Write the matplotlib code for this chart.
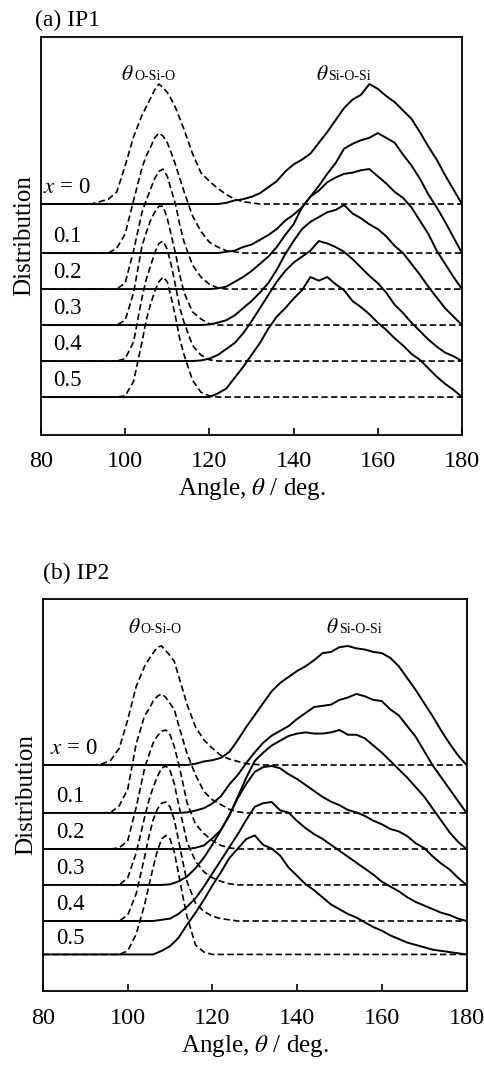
import matplotlib
matplotlib.use('Agg')
import matplotlib.pyplot as plt

plt.rcParams['font.family'] = 'Liberation Serif'
plt.rcParams['mathtext.fontset'] = 'stix'

# composition labels
labels = ['$x$ = 0', '0.1', '0.2', '0.3', '0.4', '0.5']

# angle grids (deg)
ang_osio = [80, 90, 92, 94, 96, 98, 100, 102, 104, 105, 106, 107, 108, 109, 110,
            111, 112, 113, 114, 116, 118, 120, 122, 124, 126, 128, 130, 132, 180]
ang_sios = [80, 106, 108, 110, 112, 114, 116, 118, 120, 122, 124, 126, 128, 130,
            132, 134, 136, 138, 140, 142, 144, 146, 148, 150, 152, 154, 156, 158,
            160, 162, 164, 166, 168, 170, 172, 174, 176, 178, 180]

# (a) IP1, O-Si-O distributions (normalised)
osio_ip1_0 = [0, 0, 0, 0.02, 0.04, 0.10, 0.32, 0.56, 0.74, 0.81, 0.88, 0.95, 1.0, 0.97, 0.93,
              0.87, 0.80, 0.71, 0.62, 0.42, 0.26, 0.19, 0.13, 0.08, 0.04, 0.02, 0.01, 0, 0]
osio_ip1_1 = [0, 0, 0, 0, 0, 0.04, 0.16, 0.44, 0.71, 0.81, 0.88, 0.96, 1.0, 0.975, 0.92,
              0.83, 0.73, 0.62, 0.51, 0.31, 0.18, 0.09, 0.05, 0.02, 0.01, 0, 0, 0, 0]
osio_ip1_2 = [0, 0, 0, 0, 0, 0, 0.05, 0.32, 0.64, 0.74, 0.83, 0.92, 0.98, 1.0, 0.94,
              0.82, 0.70, 0.53, 0.39, 0.20, 0.10, 0.04, 0.01, 0, 0, 0, 0, 0, 0]
osio_ip1_3 = [0, 0, 0, 0, 0, 0, 0.04, 0.27, 0.66, 0.77, 0.87, 0.94, 0.99, 0.99, 0.89,
              0.74, 0.59, 0.41, 0.27, 0.11, 0.05, 0.01, 0, 0, 0, 0, 0, 0, 0]
osio_ip1_4 = [0, 0, 0, 0, 0, 0, 0.02, 0.16, 0.53, 0.68, 0.79, 0.90, 0.98, 1.0, 0.93,
              0.79, 0.62, 0.44, 0.32, 0.13, 0.05, 0.01, 0, 0, 0, 0, 0, 0, 0]
osio_ip1_5 = [0, 0, 0, 0, 0, 0, 0.01, 0.13, 0.46, 0.64, 0.77, 0.88, 0.96, 1.0, 0.96,
              0.82, 0.66, 0.48, 0.35, 0.14, 0.04, 0.01, 0, 0, 0, 0, 0, 0, 0]

# (a) IP1, Si-O-Si distributions
sios_ip1_0 = [0, 0, 0, 0, 0, 0, 0, 0, 0, 0, 0.01, 0.03, 0.04, 0.06, 0.09, 0.14, 0.19, 0.27,
              0.33, 0.37, 0.42, 0.51, 0.60, 0.70, 0.80, 0.87, 0.91, 1.0, 0.96, 0.90, 0.85,
              0.78, 0.71, 0.60, 0.48, 0.37, 0.24, 0.12, 0]
sios_ip1_1 = [0, 0, 0, 0, 0, 0, 0, 0, 0, 0, 0.01, 0.02, 0.05, 0.07, 0.11, 0.15, 0.20, 0.27,
              0.32, 0.38, 0.47, 0.56, 0.66, 0.75, 0.87, 0.91, 0.94, 0.96, 1.0, 0.96, 0.92,
              0.82, 0.73, 0.62, 0.49, 0.38, 0.26, 0.13, 0]
sios_ip1_2 = [0, 0, 0, 0, 0, 0, 0, 0, 0, 0.005, 0.02, 0.06, 0.10, 0.15, 0.21, 0.27, 0.35,
              0.45, 0.54, 0.68, 0.77, 0.82, 0.89, 0.93, 0.96, 0.97, 0.99, 1.0, 0.94, 0.88,
              0.81, 0.76, 0.68, 0.57, 0.46, 0.32, 0.21, 0.10, 0]
sios_ip1_3 = [0, 0, 0, 0, 0, 0, 0, 0, 0.005, 0.02, 0.04, 0.08, 0.14, 0.20, 0.27, 0.35, 0.46,
              0.59, 0.70, 0.80, 0.86, 0.90, 0.94, 0.96, 1.0, 0.93, 0.89, 0.84, 0.80, 0.74,
              0.66, 0.60, 0.51, 0.42, 0.32, 0.23, 0.14, 0.07, 0]
sios_ip1_4 = [0, 0, 0, 0, 0, 0, 0, 0.005, 0.02, 0.05, 0.10, 0.15, 0.23, 0.33, 0.44, 0.55,
              0.66, 0.75, 0.82, 0.87, 0.92, 1.0, 0.98, 0.95, 0.91, 0.85, 0.78, 0.71, 0.65,
              0.57, 0.47, 0.40, 0.32, 0.25, 0.18, 0.12, 0.07, 0.04, 0]
sios_ip1_5 = [0, 0, 0, 0, 0, 0, 0, 0, 0, 0.03, 0.07, 0.16, 0.25, 0.35, 0.45, 0.57, 0.67,
              0.74, 0.82, 0.89, 1.0, 0.97, 1.0, 0.94, 0.89, 0.80, 0.75, 0.69, 0.62, 0.56,
              0.49, 0.43, 0.36, 0.31, 0.24, 0.17, 0.11, 0.06, 0]

# (b) IP2, O-Si-O distributions
osio_ip2_0 = [0, 0, 0, 0.01, 0.04, 0.14, 0.38, 0.66, 0.83, 0.89, 0.94, 0.99, 1.0, 0.96, 0.92,
              0.87, 0.75, 0.63, 0.51, 0.32, 0.21, 0.14, 0.08, 0.05, 0.03, 0.01, 0.005, 0, 0]
osio_ip2_1 = [0, 0, 0, 0, 0.005, 0.06, 0.20, 0.58, 0.82, 0.87, 0.94, 0.98, 1.0, 0.97, 0.92,
              0.87, 0.74, 0.62, 0.50, 0.32, 0.18, 0.11, 0.07, 0.03, 0.01, 0, 0, 0, 0]
osio_ip2_2 = [0, 0, 0, 0, 0, 0.01, 0.07, 0.35, 0.68, 0.79, 0.89, 0.95, 0.99, 1.0, 0.96,
              0.86, 0.72, 0.56, 0.39, 0.21, 0.13, 0.07, 0.03, 0.01, 0, 0, 0, 0, 0]
osio_ip2_3 = [0, 0, 0, 0, 0, 0, 0.06, 0.27, 0.57, 0.71, 0.82, 0.91, 0.98, 1.0, 0.96,
              0.85, 0.68, 0.52, 0.36, 0.20, 0.11, 0.06, 0.03, 0.01, 0, 0, 0, 0, 0]
osio_ip2_4 = [0, 0, 0, 0, 0, 0, 0.05, 0.23, 0.54, 0.71, 0.85, 0.94, 0.99, 1.0, 0.96,
              0.85, 0.68, 0.50, 0.33, 0.15, 0.08, 0.04, 0.02, 0.01, 0, 0, 0, 0, 0]
osio_ip2_5 = [0, 0, 0, 0, 0, 0, 0.03, 0.17, 0.42, 0.58, 0.73, 0.87, 0.97, 1.0, 0.97,
              0.86, 0.68, 0.49, 0.32, 0.08, 0.02, 0, 0, 0, 0, 0, 0, 0, 0]

# (b) IP2, Si-O-Si distributions
sios_ip2_0 = [0, 0, 0, 0, 0, 0, 0.01, 0.03, 0.04, 0.06, 0.11, 0.21, 0.32, 0.42, 0.52, 0.62,
              0.69, 0.74, 0.79, 0.83, 0.88, 0.94, 0.95, 0.99, 1.0, 0.98, 0.97, 0.95, 0.94,
              0.90, 0.83, 0.73, 0.63, 0.52, 0.41, 0.29, 0.18, 0.08, 0]
sios_ip2_1 = [0, 0, 0, 0, 0, 0.005, 0.02, 0.04, 0.08, 0.14, 0.24, 0.32, 0.42, 0.51, 0.59,
              0.65, 0.69, 0.73, 0.79, 0.84, 0.89, 0.90, 0.91, 0.95, 0.97, 1.0, 0.98, 0.95,
              0.94, 0.87, 0.82, 0.73, 0.64, 0.52, 0.40, 0.30, 0.20, 0.10, 0]
sios_ip2_2 = [0, 0, 0, 0, 0, 0, 0.01, 0.03, 0.09, 0.16, 0.28, 0.44, 0.60, 0.74, 0.81, 0.87,
              0.91, 0.95, 0.97, 0.98, 0.97, 0.97, 0.98, 1.0, 0.96, 0.96, 0.93, 0.87, 0.81,
              0.74, 0.67, 0.60, 0.52, 0.44, 0.34, 0.24, 0.14, 0.06, 0]
sios_ip2_3 = [0, 0, 0, 0.005, 0.03, 0.07, 0.14, 0.23, 0.34, 0.46, 0.59, 0.73, 0.85, 0.95,
              0.99, 1.0, 0.98, 0.93, 0.89, 0.84, 0.79, 0.74, 0.70, 0.67, 0.63, 0.61, 0.58,
              0.54, 0.51, 0.47, 0.45, 0.41, 0.35, 0.31, 0.24, 0.18, 0.13, 0.06, 0]
sios_ip2_4 = [0, 0, 0.01, 0.02, 0.06, 0.12, 0.19, 0.29, 0.40, 0.51, 0.62, 0.73, 0.85, 0.96,
              0.99, 1.0, 0.93, 0.91, 0.84, 0.78, 0.73, 0.69, 0.64, 0.59, 0.54, 0.49, 0.44,
              0.39, 0.33, 0.29, 0.25, 0.20, 0.16, 0.13, 0.10, 0.07, 0.05, 0.02, 0]
sios_ip2_5 = [0, 0, 0.03, 0.07, 0.14, 0.25, 0.35, 0.46, 0.58, 0.69, 0.81, 0.89, 0.97, 1.0,
              0.92, 0.89, 0.83, 0.73, 0.66, 0.59, 0.54, 0.48, 0.42, 0.38, 0.34, 0.31, 0.27,
              0.23, 0.20, 0.16, 0.13, 0.10, 0.08, 0.06, 0.04, 0.03, 0.02, 0.01, 0]

osio_ip1 = [osio_ip1_0, osio_ip1_1, osio_ip1_2, osio_ip1_3, osio_ip1_4, osio_ip1_5]
sios_ip1 = [sios_ip1_0, sios_ip1_1, sios_ip1_2, sios_ip1_3, sios_ip1_4, sios_ip1_5]
osio_ip2 = [osio_ip2_0, osio_ip2_1, osio_ip2_2, osio_ip2_3, osio_ip2_4, osio_ip2_5]
sios_ip2 = [sios_ip2_0, sios_ip2_1, sios_ip2_2, sios_ip2_3, sios_ip2_4, sios_ip2_5]

DASH = (0, (3.8, 2.0))


def theta_label(ax, x, y, sub, gap):
    # theta with a plain-text subscript right after it
    ax.text(x, y, r'$\theta$', fontsize=15.5, va='baseline')
    ax.annotate(sub, xy=(x, y), xytext=(gap, 0), textcoords='offset points',
                fontsize=10, va='baseline')


def draw_panel(ax, osio, sios, offs, top, lab_x0, th_pos):
    for i in range(6):
        off = offs[i]
        ax.plot(ang_osio, [v + off for v in osio[i]], color='k', lw=1.2,
                ls=DASH, zorder=2)
        ax.plot(ang_sios, [v + off for v in sios[i]], color='k', lw=1.4,
                zorder=3)
        lx = lab_x0 if i == 0 else 83.0
        ax.text(lx, off + 0.09, labels[i], fontsize=16.5, va='baseline', ha='left')

    ax.set_xlim(80, 180)
    ax.set_ylim(0, top)
    ax.set_xticks(range(80, 181, 20))
    ax.set_yticks([])
    ax.tick_params(axis='x', direction='in', length=5, width=1.2, pad=12,
                   labelsize=17.5)
    for s in ax.spines.values():
        s.set_linewidth(1.3)
    ax.set_xlabel(r'Angle, $\theta$ / deg.', fontsize=18, labelpad=3)
    ax.set_ylabel('Distribution', fontsize=18, labelpad=4)

    t1x, t2x, ty, gap = th_pos
    theta_label(ax, t1x, ty, 'O-Si-O', gap)
    theta_label(ax, t2x, ty, 'Si-O-Si', gap)


fig = plt.figure(figsize=(4.85, 10.74), dpi=100)

ax1 = fig.add_axes([0.0845, 0.5954, 0.8680, 0.3701])
draw_panel(ax1, osio_ip1, sios_ip1,
           [1.921, 1.5125, 1.2125, 0.9125, 0.6125, 0.3125], 3.3125, 80.55,
           (99.1, 145.3, 2.955, 9.0))

ax2 = fig.add_axes([0.0887, 0.0773, 0.8732, 0.3650])
draw_panel(ax2, osio_ip2, sios_ip2,
           [1.899, 1.496, 1.193, 0.891, 0.588, 0.307], 3.294, 81.65,
           (100.0, 146.9, 3.006, 9.0))

fig.text(35 / 485, 1 - 26 / 1074, '(a) IP1', fontsize=17, va='baseline')
fig.text(43 / 485, 1 - 579 / 1074, '(b) IP2', fontsize=17, va='baseline')

fig.savefig('out.png', dpi=100)
